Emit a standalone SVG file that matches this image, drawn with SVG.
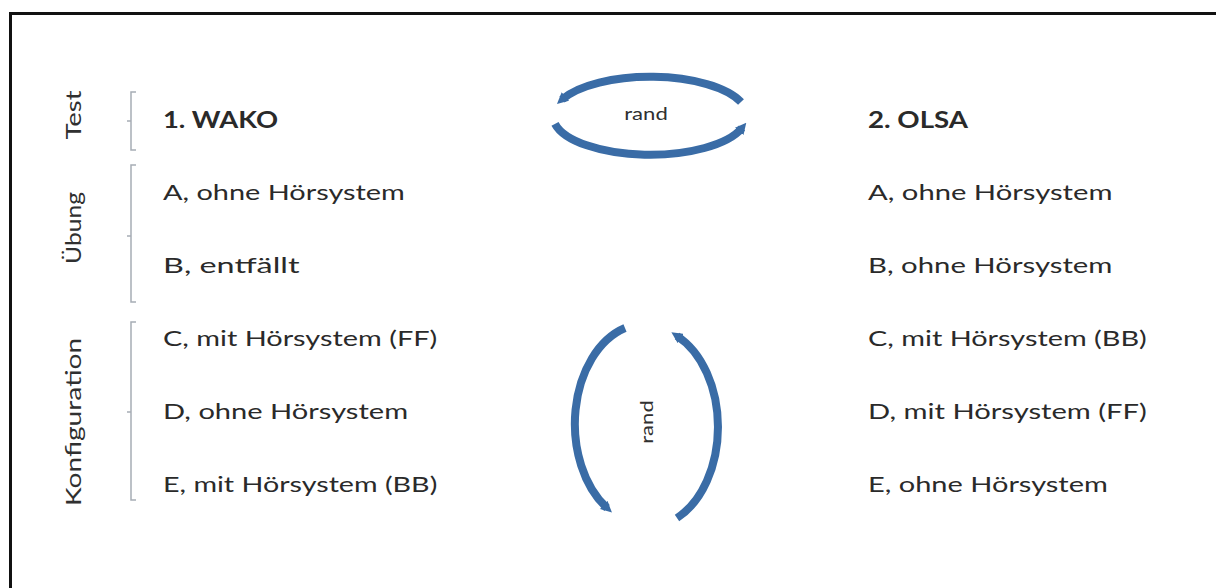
<svg xmlns="http://www.w3.org/2000/svg" width="1216" height="588" viewBox="0 0 1216 588">
  <defs>
    <marker id="tip" viewBox="0 0 10 10" refX="4" refY="5" markerWidth="1.4" markerHeight="1.4" orient="auto" markerUnits="strokeWidth">
      <path d="M0,0 L10,5 L0,10 Z" fill="#3a6ca6"/>
    </marker>
    <style>
      .t { font-family: Lato, "Open Sans", sans-serif; font-size: 22px; fill: #2a2a2a; }
      .h { font-weight: bold; }
      .lbl { font-family: Lato, "Open Sans", sans-serif; font-size: 22px; fill: #303030; }
      .rnd { font-family: Lato, "Open Sans", sans-serif; font-size: 17px; fill: #303030; }
      .br { fill: none; stroke: #a7adb5; stroke-width: 1.5; }
      .arc { fill: none; stroke: #3a6ca6; stroke-width: 8; stroke-linecap: butt; }
    </style>
  </defs>

  <rect width="1216" height="588" fill="#ffffff"/>
  <!-- frame: only the top and left edges fall inside the canvas -->
  <path d="M10.5,588 V13.5 H1216" fill="none" stroke="#111" stroke-width="3"/>

  <!-- phase labels and brackets (text is drawn wide along the line) -->
  <g id="phase-test">
    <text class="lbl" transform="translate(81,115) rotate(-90) scale(1.25,1)" text-anchor="middle">Test</text>
    <path class="br" d="M136,92 H131 V150 H136 M131,121 H127"/>
  </g>
  <g id="phase-uebung">
    <text class="lbl" transform="translate(81,228) rotate(-90) scale(1.12,1)" text-anchor="middle">Übung</text>
    <path class="br" d="M136,165 H131 V302 H136 M131,236 H127"/>
  </g>
  <g id="phase-konfiguration">
    <text class="lbl" transform="translate(81,422) rotate(-90) scale(1.28,1)" text-anchor="middle">Konfiguration</text>
    <path class="br" d="M136,322 H131 V500 H136 M131,412 H127"/>
  </g>

  <!-- left column -->
  <g id="wako">
    <text class="t h" transform="translate(163,128) scale(1.3,1)" textLength="88.5" lengthAdjust="spacingAndGlyphs">1. WAKO</text>
    <text class="t" transform="translate(163,200) scale(1.3,1)" textLength="186" lengthAdjust="spacingAndGlyphs">A, ohne Hörsystem</text>
    <text class="t" transform="translate(163,273) scale(1.3,1)" textLength="105" lengthAdjust="spacingAndGlyphs">B, entfällt</text>
    <text class="t" transform="translate(163,346) scale(1.3,1)" textLength="211" lengthAdjust="spacingAndGlyphs">C, mit Hörsystem (FF)</text>
    <text class="t" transform="translate(163,419) scale(1.3,1)" textLength="188.5" lengthAdjust="spacingAndGlyphs">D, ohne Hörsystem</text>
    <text class="t" transform="translate(163,492) scale(1.3,1)" textLength="211" lengthAdjust="spacingAndGlyphs">E, mit Hörsystem (BB)</text>
  </g>

  <!-- right column -->
  <g id="olsa">
    <text class="t h" transform="translate(868,128) scale(1.3,1)" textLength="77" lengthAdjust="spacingAndGlyphs">2. OLSA</text>
    <text class="t" transform="translate(868,200) scale(1.3,1)" textLength="188" lengthAdjust="spacingAndGlyphs">A, ohne Hörsystem</text>
    <text class="t" transform="translate(868,273) scale(1.3,1)" textLength="188" lengthAdjust="spacingAndGlyphs">B, ohne Hörsystem</text>
    <text class="t" transform="translate(868,346) scale(1.3,1)" textLength="214.5" lengthAdjust="spacingAndGlyphs">C, mit Hörsystem (BB)</text>
    <text class="t" transform="translate(868,419) scale(1.3,1)" textLength="214.5" lengthAdjust="spacingAndGlyphs">D, mit Hörsystem (FF)</text>
    <text class="t" transform="translate(868,492) scale(1.3,1)" textLength="184.5" lengthAdjust="spacingAndGlyphs">E, ohne Hörsystem</text>
  </g>

  <!-- randomisation cycles -->
  <g id="connectors">
    <path class="arc" d="M741,102 A97,39 0 0 0 562,99.5" marker-end="url(#tip)"/>
    <path class="arc" d="M555,123.8 A97,39 0 0 0 742,128" marker-end="url(#tip)"/>
    <path class="arc" d="M625,328 A70,100 0 0 0 607,508" marker-end="url(#tip)"/>
    <path class="arc" d="M677,518 A70,100 0 0 0 677,336" marker-end="url(#tip)"/>
  </g>
  <g id="rand-top">
    <text class="rnd" transform="translate(646,120) scale(1.3,1)" text-anchor="middle">rand</text>
  </g>
  <g id="rand-side">
    <text class="rnd" transform="translate(653,422) rotate(-90) scale(1.3,1)" text-anchor="middle">rand</text>
  </g>
</svg>
